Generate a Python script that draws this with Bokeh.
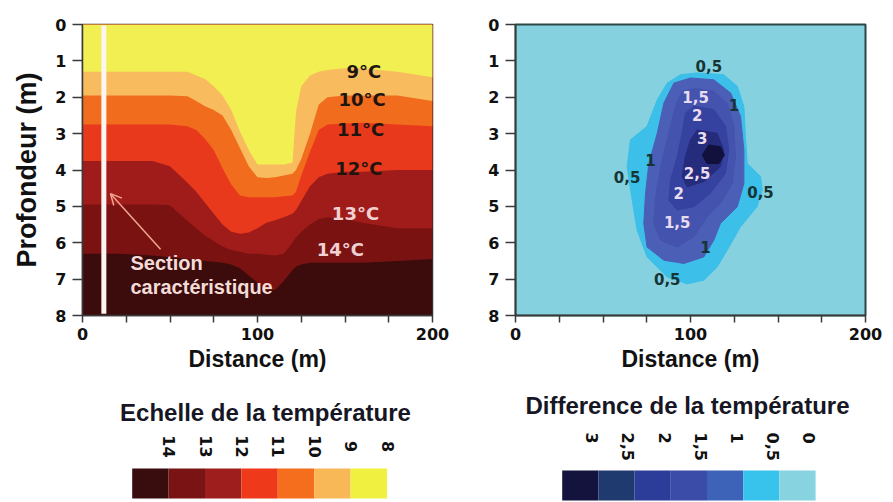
import math
from bokeh.plotting import figure
from bokeh.layouts import column, row
from bokeh.models import Range1d, FixedTicker, Arrow, OpenHead, ColumnDataSource
from bokeh.core.properties import value
from bokeh.embed import file_html
from bokeh.resources import INLINE

# ---------------- data: left panel (temperature section) ----------------
dist = [0, 20, 40, 50, 60, 65, 70, 75, 80, 85, 90, 95, 100, 105, 110, 115, 120, 122, 125, 130, 135, 140, 150, 160, 180, 200]
iso_9 = [1.3, 1.3, 1.3, 1.3, 1.3, 1.4, 1.5, 1.7, 1.95, 2.35, 2.95, 3.45, 3.85, 3.85, 3.85, 3.85, 3.8, 2.4, 1.7, 1.4, 1.3, 1.25, 1.2, 1.2, 1.3, 1.45]
iso_10 = [1.95, 1.95, 1.95, 1.95, 1.97, 2.1, 2.25, 2.35, 2.5, 2.9, 3.4, 3.9, 4.2, 4.22, 4.2, 4.15, 4.1, 4.0, 3.7, 3.0, 2.2, 2.0, 1.95, 1.95, 1.95, 2.1]
iso_11 = [2.75, 2.75, 2.75, 2.75, 2.8, 2.9, 3.15, 3.45, 3.95, 4.4, 4.7, 4.75, 4.75, 4.75, 4.75, 4.72, 4.7, 4.6, 4.15, 3.5, 2.9, 2.75, 2.72, 2.7, 2.75, 2.8]
iso_12 = [3.75, 3.75, 3.75, 3.9, 4.35, 4.6, 4.9, 5.2, 5.5, 5.7, 5.75, 5.72, 5.6, 5.45, 5.38, 5.3, 5.2, 5.1, 4.85, 4.45, 4.2, 4.1, 4.05, 4.05, 4.0, 4.0]
iso_13 = [4.95, 4.95, 4.95, 4.97, 5.4, 5.6, 5.8, 5.95, 6.1, 6.2, 6.25, 6.3, 6.3, 6.32, 6.35, 6.3, 6.0, 5.85, 5.7, 5.5, 5.35, 5.3, 5.35, 5.45, 5.6, 5.6]
iso_14 = [6.3, 6.3, 6.35, 6.4, 6.45, 6.48, 6.5, 6.52, 6.55, 6.6, 6.7, 6.9, 7.1, 7.3, 7.3, 7.05, 6.75, 6.65, 6.6, 6.55, 6.55, 6.55, 6.55, 6.55, 6.5, 6.45]

temp_label_text = ["9°C", "10°C", "11°C", "12°C", "13°C", "14°C"]
temp_label_x = [160.8, 159.8, 158.9, 157.9, 156.0, 147.4]
temp_label_y = [1.29, 2.07, 2.88, 3.97, 5.19, 6.18]

section_x = 12.2
section_text = ["Section", "caractéristique"]
section_text_x = [27.4, 27.4]
section_text_y = [6.55, 7.23]
arrow_from = (44.6, 6.18)
arrow_to = (16.0, 4.65)

# ---------------- data: right panel (temperature difference) ----------------
c05_x = [103.8, 119, 126.7, 130.5, 131.4, 132.4, 140, 141, 138, 128.6, 121, 115.2, 107.6, 98.1, 86.7, 75.2, 69.5, 66.7, 63.8, 65.7, 75.2, 81, 86.7, 94.3]
c05_y = [1.33, 1.38, 1.70, 2.25, 3.08, 3.82, 4.18, 4.55, 5.01, 5.56, 6.2, 6.67, 7.03, 7.13, 6.94, 6.39, 5.66, 4.83, 3.91, 3.17, 2.8, 2.07, 1.61, 1.38]
c10_x = [100, 113.3, 122.9, 128.6, 130.5, 130.5, 126.7, 117.1, 113.3, 107.6, 96.2, 84.8, 75.2, 73.3, 74.3, 76.2, 81, 84.8, 90.5]
c10_y = [1.47, 1.52, 1.88, 2.53, 3.45, 4.37, 5.01, 5.47, 5.93, 6.39, 6.57, 6.48, 6.12, 5.47, 4.64, 3.82, 2.99, 2.16, 1.61]
c15_x = [102.9, 113.3, 121, 124.8, 125.7, 123.8, 117.1, 109.5, 101.9, 92.4, 82.9, 79, 80, 82.9, 87.6, 91.4, 95.2]
c15_y = [1.75, 1.84, 2.16, 2.8, 3.63, 4.37, 4.92, 5.29, 5.84, 6.12, 5.93, 5.47, 4.74, 3.91, 2.99, 2.25, 1.84]
c20_x = [101.9, 113.3, 120, 121.9, 120, 111.4, 101.9, 92.4, 87.6, 88.6, 92.4, 95.2, 97.1]
c20_y = [2.25, 2.34, 2.8, 3.45, 4.09, 4.64, 5.01, 5.1, 4.83, 4.28, 3.63, 2.99, 2.44]
c25_x = [103.8, 115.2, 119, 117.1, 107.6, 98.1, 95.2, 97.1, 100]
c25_y = [2.9, 2.99, 3.45, 3.91, 4.32, 4.46, 4.18, 3.63, 3.17]
c30_x = [110.5, 117.1, 119.4, 116.2, 109.5, 106.7]
c30_y = [3.31, 3.36, 3.59, 3.82, 3.82, 3.59]

diff_label_text = ["0,5", "1,5", "1", "2", "3", "1", "0,5", "2,5", "0,5", "2", "1,5", "1", "0,5"]
diff_label_x = [110.5, 102.9, 124.8, 103.8, 106.7, 77.1, 63.8, 103.8, 140.0, 93.3, 92.4, 108.6, 86.7]
diff_label_y = [1.15, 1.98, 2.21, 2.48, 3.13, 3.72, 4.18, 4.09, 4.60, 4.64, 5.43, 6.12, 6.99]
diff_label_dark = [True, False, True, False, False, True, True, False, True, False, False, True, True]

# ---------------- data: colour scales ----------------
temp_scale_title = "Echelle de la température"
temp_scale_labels = ["14", "13", "12", "11", "10", "9", "8"]
diff_scale_title = "Difference de la température"
diff_scale_labels = ["3", "2,5", "2", "1,5", "1", "0,5", "0"]

# ---------------- styles ----------------
temp_band_colors = ["#f1ef52", "#f8bb5e", "#f26c1e", "#e9391c", "#a01c1a", "#7a1212", "#3c0c0c"]
temp_scale_colors = ["#390c0e", "#7a1313", "#9e1e1e", "#ee3a1a", "#f46e1e", "#f8b858", "#f0f040"]
diff_bg = "#86d1e0"
diff_band_colors = ["#3cbfe8", "#4b5fb6", "#4453ad", "#3542a0", "#262c7c", "#12103c"]
diff_scale_colors = ["#13133d", "#1f3a6e", "#2b3d98", "#3a4ba8", "#3d63b8", "#38c3ec", "#88d3e0"]

TICK_FONT = "DejaVu Sans"
LABEL_FONT = "Liberation Sans"


def style_axes(p, ylabel):
    xa, ya = p.xaxis[0], p.yaxis[0]
    xa.ticker = FixedTicker(ticks=[0, 100, 200], minor_ticks=[25, 50, 75, 125, 150, 175])
    ya.ticker = FixedTicker(ticks=list(range(0, 9)))
    for ax in (xa, ya):
        ax.major_label_text_font = TICK_FONT
        ax.major_label_text_font_style = "bold"
        ax.major_label_text_font_size = "16px"
        ax.major_label_text_color = "#111111"
        ax.axis_line_color = "#3a3a3a"
        ax.axis_line_width = 1.5
        ax.major_tick_line_color = "#3a3a3a"
        ax.minor_tick_line_color = "#3a3a3a"
        ax.major_tick_line_width = 1.5
        ax.minor_tick_line_width = 1.5
        ax.major_tick_in = 0
        ax.minor_tick_in = 0
        ax.axis_label_text_font = LABEL_FONT
        ax.axis_label_text_font_style = "bold"
        ax.axis_label_text_color = "#111111"
    xa.major_tick_out = 7
    xa.minor_tick_out = 7
    xa.major_label_standoff = 5
    xa.axis_label = "Distance (m)"
    xa.axis_label_text_font_size = "23px"
    xa.axis_label_standoff = 3
    ya.major_tick_out = 10
    ya.major_label_standoff = 6
    if ylabel:
        ya.axis_label = ylabel
        ya.axis_label_text_font_size = "27px"
        ya.axis_label_standoff = 10
    p.grid.visible = False


# ---------------- left panel ----------------
p1 = figure(width=475, height=380, x_range=Range1d(0, 200), y_range=Range1d(8, 0),
            output_backend="svg", toolbar_location=None,
            min_border_left=82, min_border_right=43, min_border_top=21, min_border_bottom=65)
style_axes(p1, "Profondeur (m)")
p1.outline_line_color = "#3a3a3a"
p1.outline_line_width = 1.5

top = [0] * len(dist)
bottom_layers = [iso_9, iso_10, iso_11, iso_12, iso_13, iso_14, [8] * len(dist)]
# paint from deepest to shallowest so that there are no seams
for lower, col in reversed(list(zip(bottom_layers, temp_band_colors))):
    p1.varea(x=dist, y1=top, y2=lower, fill_color=col)

p1.line(x=[section_x, section_x], y=[0.03, 7.95], line_color="#fdf5f2", line_width=5)
p1.add_layout(Arrow(end=OpenHead(size=11, line_color="#eea78e", line_width=1.5),
                    x_start=arrow_from[0], y_start=arrow_from[1],
                    x_end=arrow_to[0], y_end=arrow_to[1],
                    line_color="#eea78e", line_width=1.5))
p1.text(x=section_text_x, y=section_text_y, text=section_text,
        text_font=value(LABEL_FONT), text_font_style="bold", text_font_size="20px",
        text_color="#f3dcd8", text_align="left", text_baseline="middle")

tsrc = ColumnDataSource(dict(x=temp_label_x, y=temp_label_y, t=temp_label_text,
                             c=["#1e1410"] * 4 + ["#f0d0d0"] * 2))
p1.text(x="x", y="y", text="t", text_color="c", source=tsrc,
        text_font=value(TICK_FONT), text_font_style="bold", text_font_size="18px",
        text_align="center", text_baseline="middle")

# ---------------- right panel ----------------
p2 = figure(width=418, height=380, x_range=Range1d(0, 200), y_range=Range1d(8, 0),
            output_backend="svg", toolbar_location=None,
            min_border_left=40, min_border_right=28, min_border_top=24, min_border_bottom=65)
style_axes(p2, None)
p2.background_fill_color = diff_bg
p2.outline_line_color = "#2a4646"
p2.outline_line_width = 2

for xs, ys, col in zip([c05_x, c10_x, c15_x, c20_x, c25_x, c30_x],
                       [c05_y, c10_y, c15_y, c20_y, c25_y, c30_y], diff_band_colors):
    p2.patch(x=xs, y=ys, fill_color=col, line_color=col, line_width=1)

dsrc = ColumnDataSource(dict(x=diff_label_x, y=diff_label_y, t=diff_label_text,
                             c=["#163434" if d else "#eadcf0" for d in diff_label_dark]))
p2.text(x="x", y="y", text="t", text_color="c", source=dsrc,
        text_font=value(TICK_FONT), text_font_style="bold", text_font_size="15px",
        text_align="center", text_baseline="middle")

# ---------------- colour scales ----------------
p3 = figure(width=893, height=122, x_range=Range1d(0, 893), y_range=Range1d(502, 380),
            output_backend="svg", toolbar_location=None, min_border=0)
p3.axis.visible = False
p3.grid.visible = False
p3.outline_line_color = None

cw_l, x0_l = 36.4, 131.7
cw_r, x0_r = 36.2, 561.7
n = len(temp_scale_labels)
p3.quad(left=[x0_l + i * cw_l for i in range(n)], right=[x0_l + (i + 1) * cw_l for i in range(n)],
        top=[468] * n, bottom=[498] * n, fill_color=temp_scale_colors, line_color=None)
p3.quad(left=[x0_r + i * cw_r for i in range(n)], right=[x0_r + (i + 1) * cw_r for i in range(n)],
        top=[470] * n, bottom=[500] * n, fill_color=diff_scale_colors, line_color=None)

p3.text(x=[x0_l + 37 + i * cw_l for i in range(n)], y=[446] * n, text=temp_scale_labels,
        angle=-math.pi / 2, text_font=value(TICK_FONT), text_font_style="bold",
        text_font_size="16px", text_color="#111111", text_align="center", text_baseline="middle")
p3.text(x=[x0_r + 30 + i * cw_r for i in range(n)], y=[432] * n, text=diff_scale_labels,
        angle=-math.pi / 2, text_font=value(TICK_FONT), text_font_style="bold",
        text_font_size="16px", text_color="#111111", text_align="left", text_baseline="middle")

p3.text(x=[265, 687], y=[412, 405], text=[temp_scale_title, diff_scale_title],
        text_font=value(LABEL_FONT), text_font_style="bold", text_font_size="24px",
        text_color="#161624", text_align="center", text_baseline="middle")

layout = column(row(p1, p2), p3)
open("out.html", "w").write(file_html(layout, INLINE))
